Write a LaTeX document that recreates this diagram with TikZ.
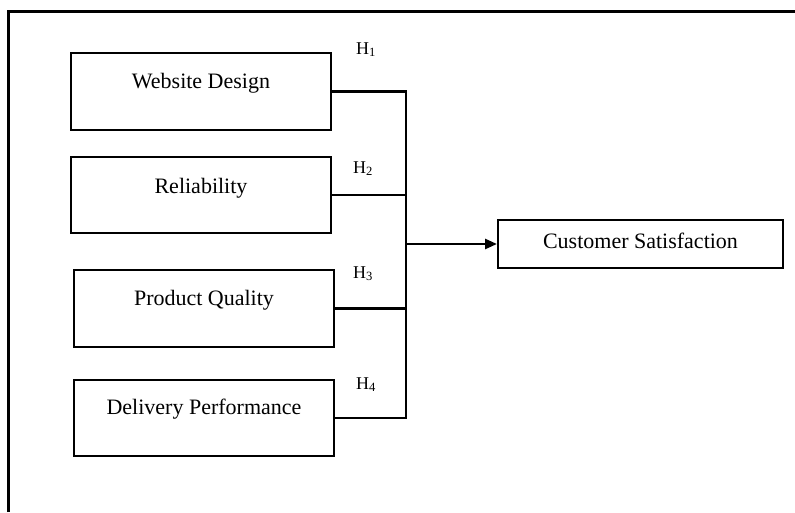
\documentclass[tikz,border=0pt]{standalone}
\usepackage{fontspec}
\setmainfont{Liberation Serif}
\usetikzlibrary{arrows.meta}
\begin{document}
\begin{tikzpicture}[x=1pt,y=-1pt,
  varbox/.style={draw=black, line width=2pt, inner sep=0pt, minimum width=260pt,
    text height=35pt, text depth=42pt, font=\fontsize{22}{26}\selectfont, anchor=north west},
  outbox/.style={draw=black, line width=2pt, inner sep=0pt, minimum width=285pt,
    text height=28pt, text depth=20pt, font=\fontsize{22}{26}\selectfont, anchor=north west},
  hlab/.style={anchor=base west, inner sep=0pt, font=\fontsize{18}{22}\selectfont},
  conn/.style={line width=2.6pt, draw=black},
  frame/.style={line width=3pt, draw=black}]
\useasboundingbox (0,0) rectangle (795,512);
\draw[frame] (8,512) -- (8,11) -- (795,11);

\node[varbox] (wd) at (70,52) {Website Design};
\node[varbox, text height=36pt, text depth=40pt] (rel) at (70,156) {Reliability};
\node[varbox] (pq) at (73,269) {Product Quality};
\node[varbox, text height=34pt, text depth=42pt] (dp) at (73,379) {Delivery Performance};
\node[outbox] (cs) at (497,219) {Customer Satisfaction};

\node[hlab] (h1) at (356,54) {H\textsubscript{1}};
\node[hlab] (h2) at (353,173) {H\textsubscript{2}};
\node[hlab] (h3) at (353,278) {H\textsubscript{3}};
\node[hlab] (h4) at (356,389) {H\textsubscript{4}};

\coordinate (bus) at (406,0);
\draw[conn] (wd.east) -- (wd.east -| bus) -- (dp.east -| bus) -- (dp.east);
\draw[conn] (rel.east) -- (rel.east -| bus);
\draw[conn] (pq.east) -- (pq.east -| bus);
\draw[conn, -{Triangle[length=12pt,width=10pt]}] (cs.west -| bus) -- (cs.west);
\end{tikzpicture}
\end{document}
